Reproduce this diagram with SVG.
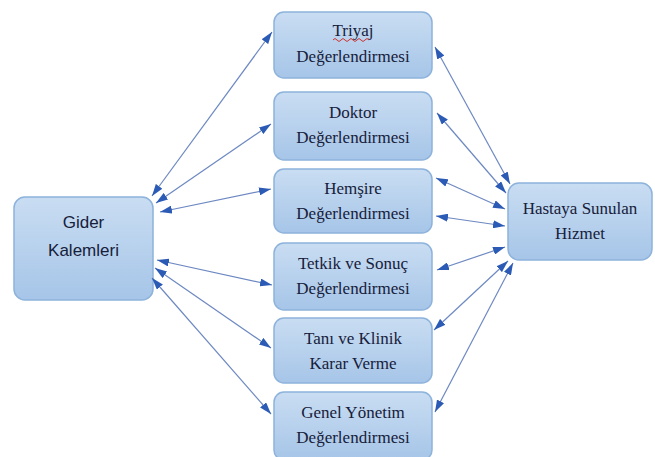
<svg xmlns="http://www.w3.org/2000/svg" width="655" height="457" viewBox="0 0 655 457">
  <defs>
    <linearGradient id="boxFill" x1="0" y1="0" x2="0" y2="1">
      <stop offset="0" stop-color="#c9ddf2"/>
      <stop offset="1" stop-color="#a6c5e8"/>
    </linearGradient>
    <marker id="arr" viewBox="0 0 12 8" refX="12" refY="4" markerWidth="12" markerHeight="8" markerUnits="userSpaceOnUse" orient="auto-start-reverse">
      <path d="M0,0 L12,4 L0,8 Z" fill="#2c5bb6"/>
    </marker>
  </defs>
  <style>
    .box { fill: url(#boxFill); stroke: #8db2dc; stroke-width: 1.5; }
    .serif { font-family: 'Liberation Serif', 'DejaVu Serif', serif; font-size: 17px; fill: #16203a; text-anchor: middle; }
    .sans { font-family: 'Liberation Sans', 'DejaVu Sans', sans-serif; font-size: 17px; fill: #16203a; text-anchor: middle; }
    .conn line { stroke: #6d88c2; stroke-width: 1.2; marker-start: url(#arr); marker-end: url(#arr); }
  </style>
  <rect width="655" height="457" fill="#ffffff"/>

  <g id="gider">
    <rect class="box" x="14" y="197" width="139" height="103" rx="11"/>
    <text class="sans" x="83.5" y="228">Gider</text>
    <text class="sans" x="83.5" y="256">Kalemleri</text>
  </g>

  <g id="triyaj">
    <rect class="box" x="274" y="12" width="158" height="66" rx="10"/>
    <text class="serif" x="353" y="36" font-family="Liberation Serif, serif">Triyaj</text>
    <path d="M333,40 q2,-3 4,0 t4,0 t4,0 t4,0 t4,0 t4,0 t4,0 t4,0 t4,0" fill="none" stroke="#d0302c" stroke-width="1"/>
    <text class="serif" x="353" y="62">Değerlendirmesi</text>
  </g>

  <g id="doktor">
    <rect class="box" x="274" y="92" width="158" height="68" rx="10"/>
    <text class="serif" x="353" y="118">Doktor</text>
    <text class="serif" x="353" y="143">Değerlendirmesi</text>
  </g>

  <g id="hemsire">
    <rect class="box" x="274" y="169" width="158" height="64" rx="10"/>
    <text class="serif" x="353" y="194">Hemşire</text>
    <text class="serif" x="353" y="219">Değerlendirmesi</text>
  </g>

  <g id="tetkik">
    <rect class="box" x="274" y="243" width="158" height="67" rx="10"/>
    <text class="serif" x="353" y="269">Tetkik ve Sonuç</text>
    <text class="serif" x="353" y="294">Değerlendirmesi</text>
  </g>

  <g id="tani">
    <rect class="box" x="274" y="318" width="158" height="65" rx="10"/>
    <text class="serif" x="353" y="344">Tanı ve Klinik</text>
    <text class="serif" x="353" y="369">Karar Verme</text>
  </g>

  <g id="genel">
    <rect class="box" x="274" y="392" width="158" height="68" rx="10"/>
    <text class="serif" x="353" y="418">Genel Yönetim</text>
    <text class="serif" x="353" y="443">Değerlendirmesi</text>
  </g>

  <g id="hastaya">
    <rect class="box" x="508" y="183" width="144" height="77" rx="11"/>
    <text class="serif" x="580" y="214">Hastaya Sunulan</text>
    <text class="serif" x="580" y="239">Hizmet</text>
  </g>

  <g id="connectors" class="conn">
    <line x1="152" y1="196" x2="272" y2="32"/>
    <line x1="156" y1="203" x2="271" y2="124"/>
    <line x1="160" y1="212" x2="271" y2="189"/>
    <line x1="157" y1="260" x2="272" y2="285"/>
    <line x1="155" y1="268" x2="271" y2="348"/>
    <line x1="152" y1="278" x2="271" y2="414"/>

    <line x1="510" y1="184" x2="435" y2="47"/>
    <line x1="506" y1="193" x2="437" y2="113"/>
    <line x1="505" y1="209" x2="436" y2="178"/>
    <line x1="505" y1="226" x2="436" y2="216"/>
    <line x1="505" y1="247" x2="437" y2="270"/>
    <line x1="508" y1="261" x2="434" y2="330"/>
    <line x1="513" y1="263" x2="435" y2="412"/>
  </g>
</svg>
